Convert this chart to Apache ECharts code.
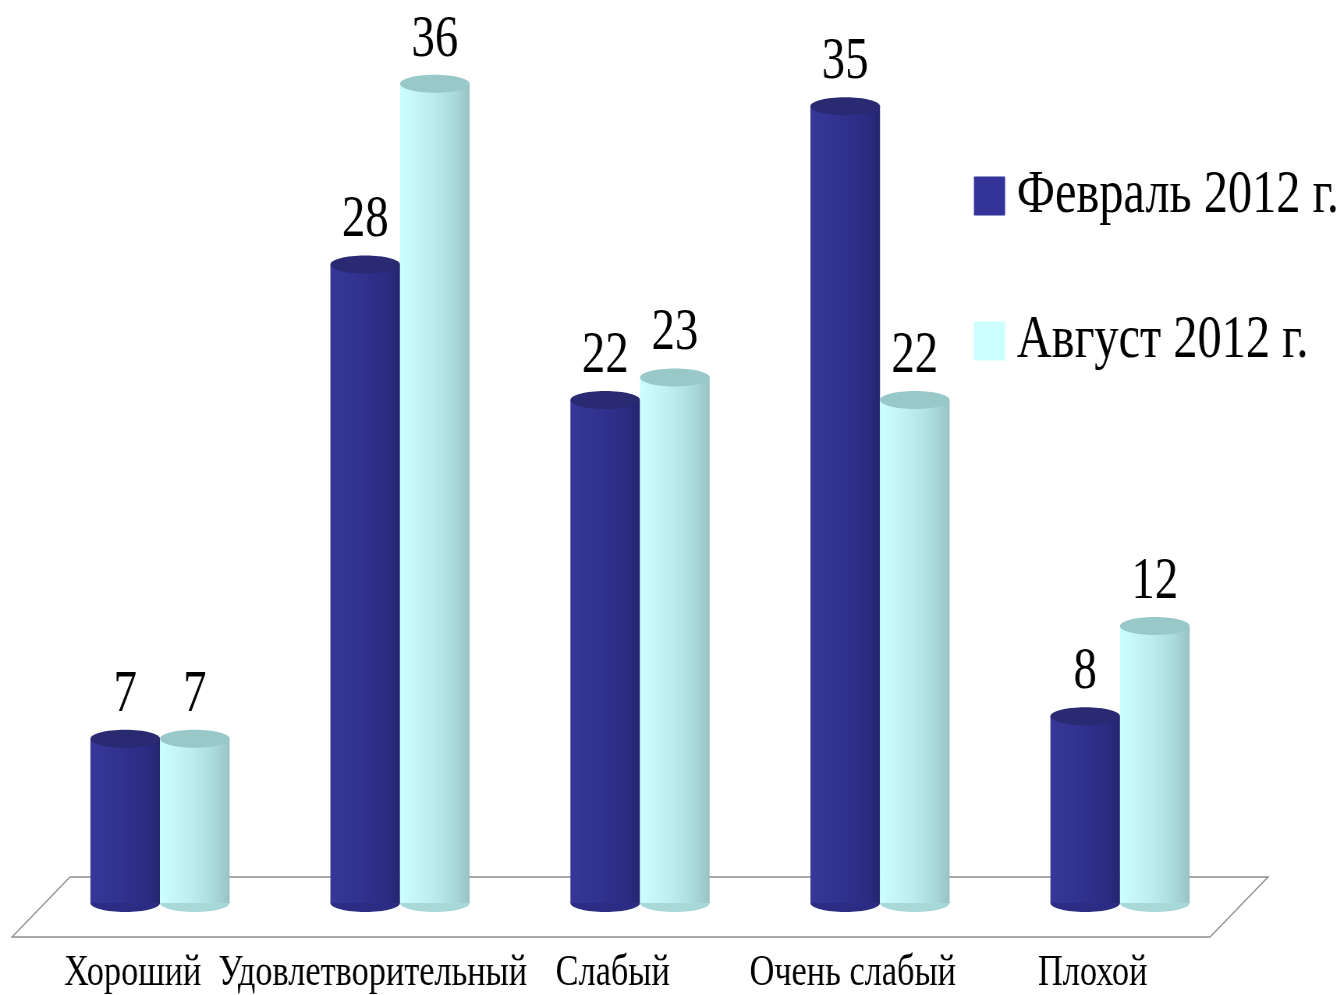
<!DOCTYPE html>
<html>
<head>
<meta charset="utf-8">
<title>Февраль / Август 2012</title>
<script src="https://cdn.jsdelivr.net/npm/echarts@6/dist/echarts.min.js"></script>
<style>
    html, body { margin: 0; padding: 0; overflow: hidden; background: #fff; }
    /* шрифт в оригинале сжат по горизонтали, поэтому весь график сжимаем */
    #main { width: 1719px; height: 995px; transform: scaleX(0.78); transform-origin: 0 0; }
</style>
</head>
<body>
<div id="main"></div>
<script>
var categories = ['Хороший', 'Удовлетворительный', 'Слабый', 'Очень слабый', 'Плохой'];
var febValues = [7, 28, 22, 35, 8];
var augValues = [7, 36, 23, 22, 12];
var seriesNames = ['Февраль 2012 г.', 'Август 2012 г.'];

var SX = 0.78;

var myChart = echarts.init(document.getElementById('main'));

// цвета цилиндров: лицевая сторона (градиент), верхняя крышка
var febColors = {
    base: '#333399',
    stops: ['#373799', '#31318f', '#2c2c84', '#25256f'],
    cap: '#2a2a72'
};
var augColors = {
    base: '#ccffff',
    stops: ['#ccffff', '#bdeeee', '#a9d8d8', '#97c3c3'],
    cap: '#99c8c8'
};

function toData(values){
    var data = [];
    for(var i=0;i<values.length;i++){
        data.push([i, values[i]]);
    }
    return data;
}

// рисуем один цилиндр через шкалы осей
function cylinder(side, colors){
    return function(params, api){
        var idx = api.value(0);
        var val = api.value(1);
        var top = api.coord([idx, val]);
        var base = api.coord([idx, 0]);
        var band = api.size([1, 0])[0];
        var w = band * 0.29;
        var cx = top[0] + side * w / 2;
        var ry = 9;
        var bottom = base[1] + 6;
        var grad = new echarts.graphic.LinearGradient(0, 0, 1, 0, [
            {offset: 0, color: colors.stops[0]},
            {offset: 0.45, color: colors.stops[1]},
            {offset: 0.8, color: colors.stops[2]},
            {offset: 1, color: colors.stops[3]}
        ]);
        return {
            type: 'group',
            children: [
                {
                    type: 'ellipse',
                    shape: {cx: cx, cy: bottom, rx: w / 2, ry: ry},
                    style: {fill: colors.stops[2]}
                },
                {
                    type: 'rect',
                    shape: {x: cx - w / 2, y: top[1], width: w, height: bottom - top[1]},
                    style: {fill: grad}
                },
                {
                    type: 'ellipse',
                    shape: {cx: cx, cy: top[1], rx: w / 2, ry: ry},
                    style: {fill: colors.cap}
                },
                {
                    type: 'text',
                    style: {
                        text: String(val),
                        x: cx,
                        y: top[1] - 14,
                        align: 'center',
                        verticalAlign: 'bottom',
                        fontFamily: 'Liberation Serif',
                        fontSize: 60,
                        fill: '#000'
                    }
                }
            ]
        };
    };
}

var u = function(x){ return x / SX; };

var option = {
    animation: false,
    backgroundColor: '#fff',
    grid: {left: u(40), right: 1719 - u(1240), top: 16, bottom: 95},
    legend: {
        orient: 'vertical',
        left: u(970),
        top: 160,
        itemWidth: 40,
        itemHeight: 39,
        itemGap: 83,
        icon: 'rect',
        textStyle: {
            fontFamily: 'Liberation Serif',
            fontSize: 62,
            lineHeight: 60,
            padding: [0, 0, 0, 10],
            color: '#000'
        },
        data: seriesNames
    },
    xAxis: {
        type: 'category',
        data: categories,
        axisLine: {show: false},
        axisTick: {show: false},
        axisLabel: {
            margin: 54,
            padding: [0, 70, 0, 0],
            fontFamily: 'Liberation Serif',
            fontSize: 44,
            color: '#000',
            interval: 0
        }
    },
    yAxis: {
        type: 'value',
        min: 0,
        max: 39,
        show: false
    },
    graphic: [{
        type: 'polygon',
        z: 0,
        shape: {points: [[u(12), 937], [u(70), 877], [u(1268), 877], [u(1210), 937]]},
        style: {fill: '#fff', stroke: '#8c8c8c', lineWidth: 1.5}
    }],
    series: [
        {
            name: seriesNames[0],
            type: 'custom',
            z: 3,
            itemStyle: {color: febColors.base},
            renderItem: cylinder(-1, febColors),
            data: toData(febValues)
        },
        {
            name: seriesNames[1],
            type: 'custom',
            z: 3,
            itemStyle: {color: augColors.base},
            renderItem: cylinder(1, augColors),
            data: toData(augValues)
        }
    ]
};
myChart.setOption(option);
</script>
</body>
</html>
